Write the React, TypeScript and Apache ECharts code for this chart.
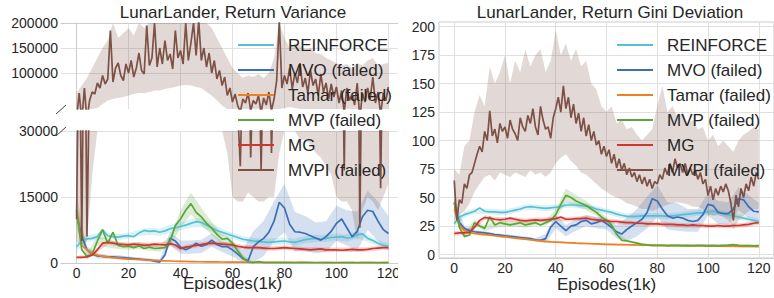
import React, { useEffect, useRef } from 'react';
import * as echarts from 'echarts';

// ---------- categories / ticks ----------
const METHODS = ['REINFORCE', 'MVO (failed)', 'Tamar (failed)', 'MVP (failed)', 'MG', 'MVPI (failed)'];
const X_TICKS = [0, 20, 40, 60, 80, 100, 120];
const VAR_TOP_TICKS = [100000, 150000, 200000];
const GINI_TICKS = [0, 25, 50, 75, 100, 125, 150, 175, 200];

// episodes (1k): step 1 for MVPI, step 2 for the others, step 4 for the thin shaded bands
const X1 = Array.from({ length: 121 }, (_, i) => i);
const X2 = Array.from({ length: 61 }, (_, i) => i * 2);
const XB = Array.from({ length: 31 }, (_, i) => i * 4);

// ---------- Return Variance (left) ----------
const rfVar = [3700, 5000, 5500, 5600, 6000, 7600, 6200, 6000, 5900, 6100,
  6200, 6000, 6800, 7400, 7200, 7300, 7000, 7300, 7800, 8000,
  8300, 8600, 9000, 9400, 9200, 8600, 8000, 7400, 7000, 6600,
  6200, 5800, 5400, 5200, 5000, 4900, 4800, 4700, 4800, 4900,
  5000, 4800, 4700, 5000, 5300, 5500, 5600, 5400, 5600, 5800,
  5900, 6000, 5700, 5800, 6400, 6600, 5600, 5100, 4500, 4000,
  3800];
const mvoVar = [11000, 6000, 3000, 2000, 1600, 1500, 1400, 1400, 1300, 1200,
  1100, 1000, 900, 800, 700, 400, 200, 1800, 5600, 5000,
  3600, 3000, 3600, 4500, 3800, 4200, 5200, 4200, 3700, 3700,
  3000, 2000, 1000, 500, 3700, 4800, 5600, 7000, 9500, 13800,
  12500, 8800, 7100, 7000, 6700, 6200, 5700, 5200, 6000, 7200,
  9000, 10000, 8000, 6000, 7200, 10500, 12000, 11700, 9500, 7600,
  6700];
const tamVar = [12000, 4000, 3000, 2200, 1800, 1500, 1400, 1200, 1100, 1000,
  900, 850, 800, 700, 650, 600, 550, 500, 450, 400,
  380, 350, 330, 300, 280, 260, 250, 240, 230, 220,
  200, 190, 180, 170, 160, 150, 150, 140, 140, 130,
  130, 130, 120, 120, 120, 110, 110, 110, 100, 100,
  100, 100, 100, 90, 90, 90, 90, 80, 80, 80,
  80];
const mvpVar = [12000, 3000, 1500, 2000, 5000, 7500, 4500, 7000, 4000, 3700,
  3800, 3500, 3900, 3300, 3600, 3300, 3400, 3500, 5000, 8500,
  10000, 12000, 13500, 11500, 10500, 9000, 7900, 6500, 5400, 5600,
  4500, 2800, 1200, 200, 100, 300, 100, 80, 70, 80,
  70, 80, 60, 70, 80, 70, 60, 70, 80, 70,
  60, 70, 80, 70, 60, 70, 80, 70, 60, 70,
  70];
const mgVar = [1300, 1300, 1400, 1800, 3000, 4500, 4700, 4500, 4300, 4200,
  4100, 4300, 4200, 4000, 4100, 4300, 4200, 4100, 4400, 4100,
  3300, 3600, 3800, 4000, 4200, 4400, 4500, 4400, 4300, 4200,
  4100, 3800, 3600, 3500, 3500, 3500, 3400, 3300, 3300, 3400,
  3500, 3400, 3300, 3200, 3100, 3000, 3100, 3200, 3000, 3000,
  3000, 2900, 3000, 3100, 3000, 3000, 3100, 3300, 3400, 3500,
  3500];
const mvpiVar = [10000, 60000, 5000, 70000, 6000, 45000, 62000, 58000, 80000, 70000,
  95000, 78000, 88000, 185000, 82000, 110000, 120000, 95000, 85000, 118000,
  100000, 125000, 92000, 110000, 140000, 105000, 98000, 195000, 115000, 130000,
  200000, 112000, 150000, 118000, 165000, 125000, 138000, 108000, 185000, 130000,
  145000, 118000, 200000, 125000, 160000, 200000, 135000, 205000, 125000, 150000,
  112000, 140000, 100000, 125000, 88000, 105000, 75000, 92000, 55000, 70000,
  42000, 58000, 35000, 22000, 48000, 40000, 60000, 24000, 45000, 38000,
  55000, 21000, 50000, 36000, 62000, 25000, 48000, 85000, 205000, 70000,
  95000, 78000, 110000, 68000, 100000, 80000, 120000, 72000, 90000, 60000,
  105000, 75000, 88000, 55000, 98000, 62000, 80000, 48000, 78000, 52000,
  72000, 40000, 65000, 21000, 70000, 45000, 58000, 36000, 80000, 8000,
  60000, 42000, 70000, 48000, 92000, 40000, 62000, 17000, 58000, 45000,
  72000];
// band half-widths (x step 4)
const rfVarBand = [1000, 800, 700, 700, 700, 700, 700, 800, 800, 900,
  900, 1000, 1000, 900, 800, 700, 700, 700, 700, 800,
  800, 800, 800, 800, 800, 800, 800, 800, 800, 700, 700];
const mvoVarBand = [1500, 800, 600, 500, 500, 400, 400, 400, 600, 1500,
  1500, 1500, 1500, 1500, 1200, 1500, 2000, 3500, 4000, 4500,
  5500, 4500, 4000, 3500, 3500, 4000, 4000, 4500, 4500, 4500, 4000];
const tamVarBand = [2000, 400, 300, 250, 250, 200, 200, 200, 150, 150,
  150, 150, 120, 120, 100, 100, 100, 100, 100, 100,
  80, 80, 80, 80, 80, 80, 80, 80, 80, 80, 80];
const mvpVarBand = [4000, 800, 1000, 1000, 800, 800, 800, 800, 800, 1200,
  2000, 2500, 2000, 1500, 1200, 1000, 600, 200, 150, 100,
  100, 100, 100, 100, 100, 100, 100, 100, 100, 100, 100];
const mgVarBand = [300, 400, 500, 500, 500, 500, 500, 500, 500, 500,
  500, 500, 500, 500, 500, 500, 500, 500, 500, 500,
  500, 500, 500, 500, 500, 500, 500, 500, 500, 500, 500];
// MVPI band bounds (x step 2)
const mvpiVarLo = [5000, 4000, 5000, 20000, 30000, 38000, 45000, 48000, 50000, 52000,
  55000, 58000, 60000, 60000, 62000, 65000, 65000, 68000, 70000, 72000,
  75000, 76000, 75000, 72000, 70000, 62000, 55000, 45000, 35000, 25000,
  15000, 14000, 14000, 16000, 15000, 14000, 14000, 15000, 15000, 25000,
  30000, 32000, 30000, 28000, 28000, 27000, 25000, 24000, 22000, 20000,
  15000, 14000, 14000, 12000, 5000, 12000, 15000, 14000, 12000, 15000,
  18000];
const mvpiVarHi = [60000, 75000, 90000, 110000, 130000, 150000, 165000, 200000, 170000, 180000,
  190000, 175000, 210000, 190000, 210000, 210000, 200000, 210000, 205000, 210000,
  210000, 210000, 210000, 210000, 210000, 200000, 190000, 170000, 150000, 130000,
  110000, 100000, 90000, 95000, 92000, 98000, 90000, 100000, 130000, 210000,
  170000, 150000, 160000, 155000, 145000, 150000, 140000, 138000, 130000, 125000,
  120000, 115000, 118000, 110000, 120000, 115000, 125000, 130000, 115000, 118000,
  120000];

// ---------- Return Gini Deviation (right) ----------
const rfGini = [27, 33, 35, 36.5, 38, 41, 38, 37.5, 37.5, 37,
  37, 38, 39, 40, 41.5, 42, 41.5, 41, 40.5, 41,
  41.5, 42, 43.5, 43.5, 43.5, 43, 42.5, 41.5, 40, 39,
  38, 37, 35.5, 34.5, 33.5, 33.5, 33.5, 34, 34, 34,
  34, 34, 33.5, 34, 34.5, 35, 35.5, 36, 36.5, 36.5,
  37.5, 38, 37, 36, 35, 34, 33, 32, 31, 30,
  29];
const mvoGini = [45, 28, 23, 21, 20, 19.5, 19, 18.5, 17.5, 17,
  16.5, 16, 15.5, 15, 14.5, 14, 13, 12.5, 14, 24,
  29, 25, 21, 25, 26, 29, 30, 27, 28, 30,
  27, 24, 20, 18, 22, 25, 28, 31, 37, 49,
  47, 40, 34, 32, 33, 32, 30, 29, 30, 35,
  44, 43, 37, 36, 36, 40, 49, 48, 42, 38,
  37.5];
const tamGini = [40, 26, 21, 19, 18.5, 18, 17.5, 17, 16.5, 16,
  15.5, 15, 14.5, 14, 13.5, 13, 12.5, 12, 11.5, 11.2,
  11, 10.8, 10.5, 10.3, 10, 9.9, 9.7, 9.5, 9.4, 9.2,
  9, 8.9, 8.8, 8.7, 8.6, 8.5, 8.4, 8.3, 8.2, 8.1,
  8, 8, 7.9, 7.9, 7.8, 7.8, 7.7, 7.7, 7.6, 7.6,
  7.5, 7.5, 7.4, 7.4, 7.3, 7.3, 7.2, 7.2, 7.1, 7.1,
  7];
const mvpGini = [46, 24, 16, 17, 28, 25, 23, 33, 26, 28,
  27, 26, 27, 28, 26, 27, 28, 26, 28, 30,
  35, 44, 52, 50, 47, 45, 43, 40, 37, 33,
  30, 26, 18, 12.5, 12, 11, 10, 9, 8.5, 8,
  8, 8.2, 7.9, 8, 8.1, 7.8, 8, 7.9, 8.2, 8,
  7.8, 8, 7.9, 8.1, 8.3, 8.8, 8, 7.9, 7.8, 7.7,
  7.8];
const mgGini = [18.5, 19, 19, 19.5, 24, 30, 32.5, 32, 31, 30.5,
  31, 32, 31, 30, 29.5, 30, 30.5, 30, 30.5, 31,
  31.5, 33, 31, 31, 31.5, 31.5, 32, 31, 30.5, 30,
  29.5, 29, 29, 28.5, 28, 28, 27.5, 27.5, 27, 27,
  27, 26.5, 26.5, 26.5, 26, 26, 25.5, 26, 25.5, 25.5,
  25, 25, 25.5, 25, 25, 25.5, 25.5, 26, 26.5, 27.5,
  28];
const mvpiGini = [65, 30, 48, 45, 62, 58, 70, 72, 80, 88,
  95, 90, 108, 100, 126, 104, 110, 98, 115, 108,
  112, 102, 118, 110, 106, 100, 120, 112, 108, 122,
  115, 128, 112, 105, 130, 118, 110, 112, 102, 120,
  128, 138, 125, 148, 128, 138, 120, 132, 115, 124,
  108, 120, 104, 114, 100, 108, 96, 100, 88, 95,
  86, 92, 80, 88, 76, 84, 74, 80, 70, 76,
  68, 72, 64, 70, 62, 68, 60, 66, 58, 64,
  62, 70, 66, 76, 70, 80, 72, 84, 76, 80,
  72, 80, 70, 76, 70, 74, 66, 72, 62, 66,
  52, 60, 48, 58, 52, 60, 55, 62, 56, 45,
  30, 52, 42, 58, 50, 62, 56, 68, 60, 72,
  66];
const rfGiniBand = [2.5, 2.5, 2.5, 2.5, 2.5, 2.5, 2.5, 2.5, 2.5, 2.5,
  2.5, 2.5, 2.5, 2.5, 2.5, 2.5, 2.5, 2.5, 2.5, 2.5,
  2.5, 2.5, 2.5, 2.5, 2.5, 2.5, 2.5, 2.5, 2.5, 2.5, 2.5];
const mvoGiniBand = [5, 2, 1.5, 1.5, 1.5, 1.5, 1.5, 1.5, 1.5, 4,
  6, 5, 5, 5, 5, 5, 6, 10, 12, 14,
  14, 12, 12, 10, 10, 10, 10, 10, 10, 10, 8];
const tamGiniBand = [1, 1, 1, 1, 1, 1, 1, 1, 1, 1,
  1, 1, 1, 1, 1, 1, 1, 1, 1, 1,
  1, 1, 1, 1, 1, 1, 1, 1, 1, 1, 1];
const mvpGiniBand = [5, 2.5, 2.5, 2.5, 2.5, 2.5, 2.5, 2.5, 2.5, 2.5,
  4, 6, 5, 4, 3, 3, 2, 1, 1, 1,
  1, 1, 1, 1, 1, 1, 1, 1, 1, 1, 1];
const mgGiniBand = [2, 2, 2, 2, 2, 2, 2, 2, 2, 2,
  2, 2, 2, 2, 2, 2, 2, 2, 2, 2,
  2, 2, 2, 2, 2, 2, 2, 2, 2, 2, 2];
const mvpiGiniLo = [30, 35, 38, 45, 55, 62, 68, 70, 65, 72,
  70, 68, 72, 70, 68, 74, 70, 72, 68, 72,
  80, 85, 88, 82, 78, 72, 70, 66, 62, 58,
  55, 52, 50, 48, 45, 44, 42, 40, 40, 38,
  40, 42, 44, 45, 46, 45, 44, 42, 42, 40,
  35, 34, 35, 33, 30, 22, 30, 34, 38, 40,
  40];
const mvpiGiniHi = [75, 70, 95, 100, 125, 140, 130, 165, 150, 160,
  175, 150, 170, 160, 180, 165, 175, 180, 160, 170,
  197, 175, 185, 170, 180, 165, 170, 150, 145, 130,
  125, 130, 115, 118, 110, 112, 105, 100, 105, 110,
  130, 148, 125, 130, 120, 125, 115, 118, 110, 112,
  100, 105, 95, 100, 95, 90, 100, 105, 108, 112,
  110];

// ---------- styles ----------
const COLORS = ['#55c1d3', '#3b6fb6', '#f07f22', '#5aa63a', '#d1352b', '#7d5146'];
const FONT = "'Liberation Sans', Arial, Helvetica, sans-serif";
const TXT = '#262626';
const GRIDC = '#e0e0e0';
const SPINE = '#cccccc';

const pairs = (xs: number[], ys: number[]) => xs.map((x, i) => [x, ys[i]]);

function lineS(name: string, color: string, xs: number[], ys: number[], ax: number) {
  return {
    type: 'line', name, xAxisIndex: ax, yAxisIndex: ax, data: pairs(xs, ys),
    symbol: 'none', showSymbol: false, clip: true, silent: true,
    lineStyle: { color, width: 1.7 }, itemStyle: { color },
  };
}

// shaded band drawn as one polygon through the axes' own coordinate mapping
function bandS(color: string, xs: number[], lo: number[], hi: number[], ax: number, yMin: number, yMax: number, opacity: number) {
  const clampV = (v: number) => Math.max(yMin, Math.min(yMax, v));
  return {
    type: 'custom', xAxisIndex: ax, yAxisIndex: ax, silent: true, clip: true,
    data: xs.map((x, i) => [x, lo[i], hi[i]]),
    encode: { x: 0, y: [1, 2] },
    renderItem: (params: any, api: any) => {
      if (params.dataIndex !== 0) return null;
      const top = xs.map((x, i) => api.coord([x, clampV(hi[i])]));
      const bot = xs.map((x, i) => api.coord([x, clampV(lo[i])])).reverse();
      return { type: 'polygon', shape: { points: top.concat(bot) }, style: { fill: color, opacity } };
    },
  };
}
function halfBand(line: number[], hw: number[]) {
  const lo = XB.map((_, i) => line[i * 2] - hw[i]);
  const hi = XB.map((_, i) => line[i * 2] + hw[i]);
  return [lo, hi];
}

function panelSeries(ax: number, yMin: number, yMax: number, lines: number[][], bands: number[][], mvpi: number[], mvpiLo: number[], mvpiHi: number[]) {
  const out: any[] = [];
  for (let m = 0; m < 5; m++) {
    const [lo, hi] = halfBand(lines[m], bands[m]);
    out.push(bandS(COLORS[m], XB, lo, hi, ax, yMin, yMax, 0.22));
    out.push(lineS(METHODS[m], COLORS[m], X2, lines[m], ax));
  }
  out.push(bandS(COLORS[5], X2, mvpiLo, mvpiHi, ax, yMin, yMax, 0.22));
  out.push(lineS(METHODS[5], COLORS[5], X1, mvpi, ax));
  return out;
}

const axisText = { color: TXT, fontSize: 14, fontFamily: FONT };

function xAxisCfg(gridIndex: number, showLabels: boolean, position: string, nameGap: number) {
  return {
    type: 'value', gridIndex, min: -6, max: 126, position, splitNumber: 7,
    axisLine: { show: true, onZero: false, lineStyle: { color: SPINE, width: 1 } },
    axisTick: { show: false, customValues: X_TICKS },
    axisLabel: { show: showLabels, customValues: X_TICKS, margin: 3, ...axisText, formatter: (v: number) => String(v) },
    splitLine: { show: true, lineStyle: { color: GRIDC, width: 1 } },
    name: showLabels ? 'Episodes(1k)' : '', nameLocation: 'middle', nameGap, nameMoveOverlap: false,
    nameTextStyle: { fontSize: 17, color: TXT, fontFamily: FONT },
  };
}

function legendCfg(left: number) {
  return {
    left, top: 30, orient: 'vertical', icon: 'rect', itemWidth: 36, itemHeight: 2, itemGap: 5,
    selectedMode: false, data: METHODS,
    textStyle: { fontSize: 17, color: TXT, fontFamily: FONT, lineHeight: 20, padding: [0, 0, 0, 9] },
  };
}

export default function App() {
  const ref = useRef<HTMLDivElement>(null);
  useEffect(() => {
    if (!ref.current) return;
    const chart = echarts.init(ref.current, undefined, { renderer: 'svg' });
    const varLines = [rfVar, mvoVar, tamVar, mvpVar, mgVar];
    const varBands = [rfVarBand, mvoVarBand, tamVarBand, mvpVarBand, mgVarBand];
    const giniLines = [rfGini, mvoGini, tamGini, mvpGini, mgGini];
    const giniBands = [rfGiniBand, mvoGiniBand, tamGiniBand, mvpGiniBand, mgGiniBand];
    chart.setOption({
      animation: false,
      backgroundColor: '#ffffff',
      grid: [
        { left: 61, top: 23, width: 343, height: 86, show: false },
        { left: 61, top: 131, width: 343, height: 132, show: false },
        { left: 439, top: 22, width: 342, height: 240, show: true, borderColor: SPINE, borderWidth: 1, backgroundColor: 'transparent' },
      ],
      xAxis: [
        xAxisCfg(0, false, 'top', 0),
        xAxisCfg(1, true, 'bottom', 12),
        xAxisCfg(2, true, 'bottom', 18),
      ],
      yAxis: [
        {
          type: 'value', gridIndex: 0, min: 28000, max: 200000, splitNumber: 4,
          axisLine: { show: true, lineStyle: { color: SPINE } },
          axisTick: { show: false, customValues: VAR_TOP_TICKS },
          axisLabel: { customValues: VAR_TOP_TICKS, margin: 3, ...axisText, formatter: (v: number) => (v >= 100000 ? String(v) : '') },
          splitLine: { show: true, lineStyle: { color: GRIDC } },
        },
        {
          type: 'value', gridIndex: 1, min: 0, max: 30000, interval: 15000,
          axisLine: { show: true, lineStyle: { color: SPINE } },
          axisTick: { show: false },
          axisLabel: { margin: 3, ...axisText, formatter: (v: number) => String(v) },
          splitLine: { show: true, lineStyle: { color: GRIDC } },
        },
        {
          type: 'value', gridIndex: 2, min: -3, max: 204,
          axisLine: { show: false },
          axisTick: { show: false, customValues: GINI_TICKS },
          axisLabel: { customValues: GINI_TICKS, margin: 4, ...axisText, formatter: (v: number) => String(v) },
          splitLine: { show: true, lineStyle: { color: GRIDC } },
        },
      ],
      legend: [legendCfg(233), legendCfg(612)],
      series: [
        ...panelSeries(0, 28000, 200000, varLines, varBands, mvpiVar, mvpiVarLo, mvpiVarHi),
        ...panelSeries(1, 0, 30000, varLines, varBands, mvpiVar, mvpiVarLo, mvpiVarHi),
        ...panelSeries(2, -3, 204, giniLines, giniBands, mvpiGini, mvpiGiniLo, mvpiGiniHi),
      ],
      graphic: [
        { type: 'rect', z: 50, shape: { x: 398, y: 0, width: 9, height: 298 }, style: { fill: '#ffffff' } },
        {
          type: 'text', z: 60, x: 233, y: 12,
          style: { text: 'LunarLander, Return Variance', fill: TXT, font: `17px ${FONT}`, align: 'center', verticalAlign: 'middle', textAlign: 'center', textVerticalAlign: 'middle' },
        },
        {
          type: 'text', z: 60, x: 610, y: 12,
          style: { text: 'LunarLander, Return Gini Deviation', fill: TXT, font: `17px ${FONT}`, align: 'center', verticalAlign: 'middle', textAlign: 'center', textVerticalAlign: 'middle' },
        },
        { type: 'line', z: 60, shape: { x1: 56, y1: 114, x2: 66, y2: 105 }, style: { stroke: '#444444', lineWidth: 1 } },
        { type: 'line', z: 60, shape: { x1: 56, y1: 136, x2: 66, y2: 127 }, style: { stroke: '#444444', lineWidth: 1 } },
      ],
    });
    return () => chart.dispose();
  }, []);
  return <div ref={ref} style={{ position: 'fixed', left: 0, top: 0, width: 774, height: 298 }} />;
}
